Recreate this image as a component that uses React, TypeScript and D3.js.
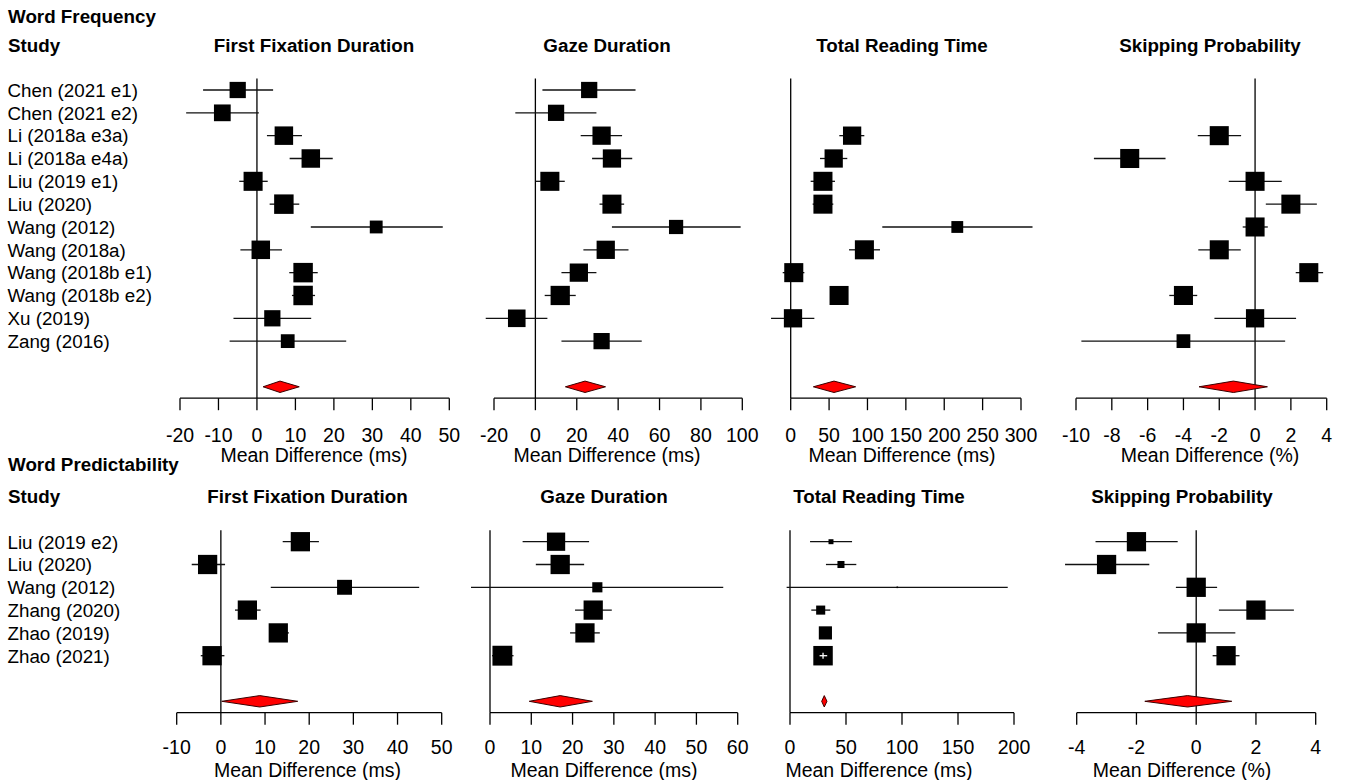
import React from "react";
import * as d3 from "d3";

// ---------- DATA ----------
const freqStudies = [
  "Chen (2021 e1)", "Chen (2021 e2)", "Li (2018a e3a)", "Li (2018a e4a)",
  "Liu (2019 e1)", "Liu (2020)", "Wang (2012)", "Wang (2018a)",
  "Wang (2018b e1)", "Wang (2018b e2)", "Xu (2019)", "Zang (2016)",
];
const predStudies = [
  "Liu (2019 e2)", "Liu (2020)", "Wang (2012)", "Zhang (2020)", "Zhao (2019)", "Zhao (2021)",
];

type Est = [number, number, number, number] | null; // [mean diff, lower CI, upper CI, weight]

const freqFFD: Est[] = [
  [-5, -14, 4.2, 64], [-9, -18.4, 0.5, 68], [7, 2.6, 11.7, 83], [14, 8.5, 19.7, 83],
  [-1, -4.6, 2.8, 88], [7, 3.3, 11, 92], [31, 14, 48.3, 40], [1, -4.3, 6.5, 83],
  [12, 8.4, 15.8, 92], [12, 9.1, 15.1, 92], [4, -6.1, 14.1, 64], [8, -7.1, 23.2, 46],
];
const freqGaze: Est[] = [
  [26, 3.4, 48.4, 64], [10, -9.7, 29.5, 64], [32, 21.9, 41.9, 81], [37, 27.4, 46.8, 81],
  [7, 0.1, 14.2, 88], [37, 31, 42.9, 88], [68, 37, 99.2, 49], [34, 23.2, 45, 81],
  [21, 12.6, 29.5, 81], [12, 4.5, 19.5, 90], [-9, -24, 5.8, 75], [32, 12.6, 51.4, 64],
];
const freqTRT: Est[] = [
  null, null, [80, 63.3, 95.9, 81], [56, 38.2, 73.7, 81],
  [42, 26, 57.7, 88], [42, 28.6, 55.5, 88], [217, 119.3, 315, 34], [96, 76, 116.3, 88],
  [4, -10.4, 17.8, 88], [63, 61.8, 64.2, 88], [3, -25.6, 30.8, 81], null,
];
const freqSkip: Est[] = [
  null, null, [-2, -3.2, -0.78, 88], [-7, -9, -5, 88],
  [0, -1.47, 1.49, 88], [2, 0.6, 3.45, 88], [0, -0.69, 0.71, 88], [-2, -3.17, -0.8, 88],
  [3, 2.27, 3.8, 88], [-4, -4.79, -3.23, 88], [0, -2.27, 2.29, 81], [-4, -9.7, 1.68, 46],
];
const freqPooledFFD = [6.0, 1.6, 11.0];
const freqPooledGaze = [24, 14.5, 33.9];
const freqPooledTRT = [56.4, 29.5, 84.6];
const freqPooledSkip = [-1.21, -3.13, 0.69];

const predFFD: Est[] = [
  [18, 14, 22.2, 90], [-3, -6.6, 0.95, 90], [28, 11.3, 44.9, 54],
  [6, 3.2, 9.0, 90], [13, 11, 15.4, 90], [-2, -4.55, 0.8, 90],
];
const predGaze: Est[] = [
  [16, 7.9, 24, 81], [17, 11.1, 22.8, 90], [26, -4.6, 56.5, 25],
  [25, 20.6, 29.5, 90], [23, 19.4, 26.6, 90], [3, 0.5, 5.7, 96],
];
const predTRT: Est[] = [
  [36.6, 17.9, 55.4, 6], [45.5, 32.1, 59.2, 12], [95.8, -3, 194.4, 0.4],
  [27.4, 19, 36, 20], [31.6, 30.6, 32.6, 42], [29.5, 26.4, 33.2, 92],
];
const predSkip: Est[] = [
  [-2, -3.37, -0.62, 90], [-3, -4.39, -1.57, 90], [0, -0.68, 0.7, 90],
  [2, 0.76, 3.27, 90], [0, -1.28, 1.31, 90], [1, 0.55, 1.45, 90],
];
const predPooledFFD = [8.8, 0.2, 17.4];
const predPooledGaze = [17, 9.5, 24.8];
const predPooledTRT = [30.6, 28.3, 33];
const predPooledSkip = [-0.29, -1.72, 1.19];

const ticksFreqFFD = [-20, -10, 0, 10, 20, 30, 40, 50];
const ticksFreqGaze = [-20, 0, 20, 40, 60, 80, 100];
const ticksFreqTRT = [0, 50, 100, 150, 200, 250, 300];
const ticksFreqSkip = [-10, -8, -6, -4, -2, 0, 2, 4];
const ticksPredFFD = [-10, 0, 10, 20, 30, 40, 50];
const ticksPredGaze = [0, 10, 20, 30, 40, 50, 60];
const ticksPredTRT = [0, 50, 100, 150, 200];
const ticksPredSkip = [-4, -2, 0, 2, 4];

const outcomeTitles = ["First Fixation Duration", "Gaze Duration", "Total Reading Time", "Skipping Probability"];
const unitLabels = ["Mean Difference (ms)", "Mean Difference (ms)", "Mean Difference (ms)", "Mean Difference (%)"];

// ---------- RENDER ----------
const FONT = "'Liberation Sans', Arial, Helvetica, sans-serif";
const boxSize = d3.scaleSqrt().domain([0, 100]).range([0, 20.3]);
const LABEL_SIZE = 18.8;
const TICK_SIZE = 19.5;

interface PanelProps {
  rows: Est[];
  pooled: number[];
  ticks: number[];
  px: [number, number];
  rowY0: number;
  step: number;
  titleCx: number;
  titleY: number;
  title: string;
  unit: string;
  tickLabelDy: number;
  unitDy: number;
}

function Panel(p: PanelProps) {
  const x = d3.scaleLinear().domain([p.ticks[0], p.ticks[p.ticks.length - 1]]).range(p.px);
  const y = (i: number) => p.rowY0 + i * p.step;
  const n = p.rows.length;
  const yDiamond = y(n + 1);
  const yAxis = y(n + 1.5);
  const yTop = y(-0.5);
  const [pm, pl, pu] = p.pooled;
  const dh = 5.7;
  const diamond = d3.line()([
    [x(pl), yDiamond], [x(pm), yDiamond - dh], [x(pu), yDiamond], [x(pm), yDiamond + dh], [x(pl), yDiamond],
  ] as [number, number][]) as string;
  return (
    <g>
      <text x={p.titleCx} y={p.titleY} textAnchor="middle" fontWeight="bold" fontSize={18.8} fontFamily={FONT}>
        {p.title}
      </text>
      <line x1={x(0)} x2={x(0)} y1={yTop} y2={yAxis} stroke="#000" strokeWidth={1.3} />
      {p.rows.map((r, i) => {
        if (!r) return null;
        const [m, lo, hi, w] = r;
        const s = Math.max(boxSize(w), 1.6);
        const cx = x(m);
        const cy = y(i);
        const inside = x(lo) >= cx - s / 2 && x(hi) <= cx + s / 2;
        const ciW = x(hi) - x(lo);
        return (
          <g key={i}>
            {!inside && <line x1={x(lo)} x2={x(hi)} y1={cy} y2={cy} stroke="#111" strokeWidth={1.3} />}
            <rect x={cx - s / 2} y={cy - s / 2} width={s} height={s} fill="#000" />
            {inside && ciW > 4 && (
              <g stroke="#fff" strokeWidth={1.3}>
                <line x1={x(lo)} x2={x(hi)} y1={cy} y2={cy} />
                <line x1={cx} x2={cx} y1={cy - 3} y2={cy + 3} />
              </g>
            )}
          </g>
        );
      })}
      <path d={diamond} fill="#ff0000" stroke="#3a0000" strokeWidth={1} />
      <line x1={p.px[0]} x2={p.px[1]} y1={yAxis} y2={yAxis} stroke="#000" strokeWidth={1.3} />
      {p.ticks.map((t) => (
        <g key={t}>
          <line x1={x(t)} x2={x(t)} y1={yAxis} y2={yAxis + 12} stroke="#000" strokeWidth={1.3} />
          <text x={x(t)} y={yAxis + p.tickLabelDy} textAnchor="middle" fontSize={TICK_SIZE} fontFamily={FONT}>
            {t}
          </text>
        </g>
      ))}
      <text x={p.titleCx} y={yAxis + p.unitDy} textAnchor="middle" fontSize={TICK_SIZE} fontFamily={FONT}>
        {p.unit}
      </text>
    </g>
  );
}

export default function App() {
  const topStep = 22.83;
  const topY0 = 90;
  const botY0 = 541.7;
  const botStep = 22.8;

  const top = [
    { rows: freqFFD, pooled: freqPooledFFD, ticks: ticksFreqFFD, px: [180, 449.3] as [number, number], cx: 314 },
    { rows: freqGaze, pooled: freqPooledGaze, ticks: ticksFreqGaze, px: [494, 742.3] as [number, number], cx: 607 },
    { rows: freqTRT, pooled: freqPooledTRT, ticks: ticksFreqTRT, px: [790.7, 1021] as [number, number], cx: 902 },
    { rows: freqSkip, pooled: freqPooledSkip, ticks: ticksFreqSkip, px: [1076, 1326.7] as [number, number], cx: 1210 },
  ];
  const bottom = [
    { rows: predFFD, pooled: predPooledFFD, ticks: ticksPredFFD, px: [176.7, 441.7] as [number, number], cx: 307.5 },
    { rows: predGaze, pooled: predPooledGaze, ticks: ticksPredGaze, px: [490, 737.7] as [number, number], cx: 604 },
    { rows: predTRT, pooled: predPooledTRT, ticks: ticksPredTRT, px: [790, 1014] as [number, number], cx: 879 },
    { rows: predSkip, pooled: predPooledSkip, ticks: ticksPredSkip, px: [1076.7, 1315.7] as [number, number], cx: 1182 },
  ];

  return (
    <svg
      width={1345}
      height={780}
      style={{ position: "absolute", left: 0, top: 0, background: "#fff" }}
      fontFamily={FONT}
    >
      <rect width={1345} height={780} fill="#fff" />
      <text x={8} y={22.5} fontWeight="bold" fontSize={18.8}>Word Frequency</text>
      <text x={8} y={51.5} fontWeight="bold" fontSize={18.8}>Study</text>
      {freqStudies.map((s, i) => (
        <text key={s} x={7.5} y={topY0 + i * topStep + 6.8} fontSize={LABEL_SIZE}>{s}</text>
      ))}
      {top.map((c, k) => (
        <Panel
          key={"t" + k}
          rows={c.rows}
          pooled={c.pooled}
          ticks={c.ticks}
          px={c.px}
          rowY0={topY0}
          step={topStep}
          titleCx={c.cx}
          titleY={51.5}
          title={outcomeTitles[k]}
          unit={unitLabels[k]}
          tickLabelDy={44}
          unitDy={63.8}
        />
      ))}

      <text x={8} y={471} fontWeight="bold" fontSize={18.8}>Word Predictability</text>
      <text x={8} y={503} fontWeight="bold" fontSize={18.8}>Study</text>
      {predStudies.map((s, i) => (
        <text key={s} x={7.5} y={botY0 + i * botStep + 6.8} fontSize={LABEL_SIZE}>{s}</text>
      ))}
      {bottom.map((c, k) => (
        <Panel
          key={"b" + k}
          rows={c.rows}
          pooled={c.pooled}
          ticks={c.ticks}
          px={c.px}
          rowY0={botY0}
          step={botStep}
          titleCx={c.cx}
          titleY={503}
          title={outcomeTitles[k]}
          unit={unitLabels[k]}
          tickLabelDy={40.8}
          unitDy={64}
        />
      ))}
    </svg>
  );
}
